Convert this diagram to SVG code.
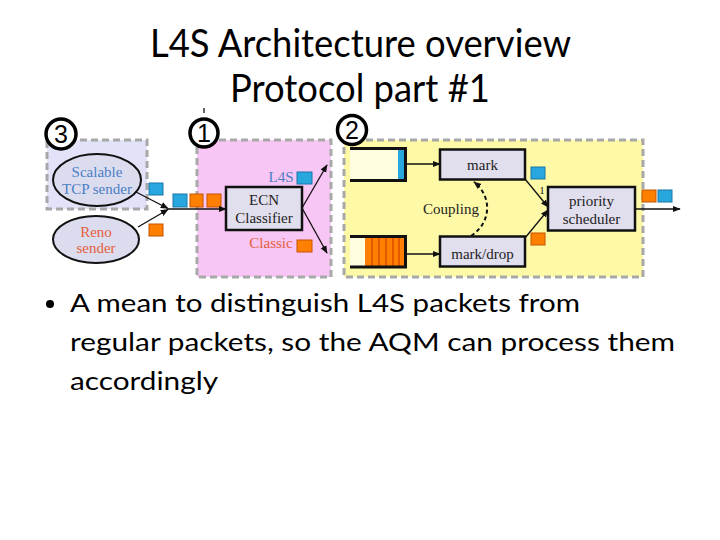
<svg xmlns="http://www.w3.org/2000/svg" width="720" height="540" viewBox="0 0 720 540">
<style>
.title{font-family:Lato,"Open Sans",sans-serif;font-size:38px;fill:#000}
.bul{font-family:Lato,"Open Sans",sans-serif;font-size:25px;fill:#000}
.lbl{font-family:"Liberation Serif","Times New Roman",serif;font-size:15px;fill:#222;text-anchor:middle}
.blue{fill:#4a7fc4}
.orng{fill:#e5603c}
.zone{stroke:#a8a8a8;stroke-width:3;stroke-dasharray:7,4}
.num{fill:#fff;stroke:#000;stroke-width:3.5}
.numt{font-family:"Liberation Sans",Arial,sans-serif;font-size:25px;fill:#000;text-anchor:middle}
.node{fill:#e1deee;stroke:#111;stroke-width:2.5}
.pb{fill:#27a7de;stroke:#1b77a8;stroke-width:1}
.po{fill:#ff7f00;stroke:#c65200;stroke-width:1}
.ln{stroke:#111;stroke-width:1.3;fill:none}
.q{fill:none;stroke:#111;stroke-width:3}
</style>
<defs>
<marker id="ah" viewBox="0 0 10 10" refX="9" refY="5" markerWidth="8" markerHeight="8" markerUnits="userSpaceOnUse" orient="auto">
<path d="M0,1 L10,5 L0,9 Z" fill="#111"/>
</marker>
</defs>
<rect width="720" height="540" fill="#fff"/>

<text class="title" x="150" y="57" textLength="421" lengthAdjust="spacingAndGlyphs">L4S Architecture overview</text>
<text class="title" x="230" y="102" textLength="260" lengthAdjust="spacingAndGlyphs">Protocol part #1</text>
<line x1="204" y1="108" x2="204" y2="113" stroke="#333" stroke-width="1.5"/>

<g id="zone3">
<rect class="zone" x="47" y="140" width="100" height="69" fill="#e2e2f8"/>
</g>
<g id="zone1">
<rect class="zone" x="197" y="140" width="134" height="137" fill="#f8c6f4"/>
</g>
<g id="zone2">
<rect class="zone" x="344" y="140" width="299" height="137" fill="#fdf9a6"/>
</g>

<g id="badge3"><circle class="num" cx="61" cy="134" r="15"/><text class="numt" x="61" y="143">3</text></g>
<g id="badge1"><circle class="num" cx="204" cy="133" r="14"/><text class="numt" x="204" y="142">1</text></g>
<g id="badge2"><circle class="num" cx="352" cy="130" r="14.5"/><text class="numt" x="352" y="139">2</text></g>

<g id="scalable">
<ellipse cx="97" cy="180" rx="44" ry="26" fill="#dcdcef" stroke="#111" stroke-width="2"/>
<text class="lbl blue" x="97" y="177">Scalable</text>
<text class="lbl blue" x="97" y="194">TCP sender</text>
</g>
<g id="reno">
<ellipse cx="96" cy="239.5" rx="43" ry="23.5" fill="#dcdcef" stroke="#111" stroke-width="2"/>
<text class="lbl orng" x="96" y="237">Reno</text>
<text class="lbl orng" x="96" y="253">sender</text>
</g>

<g id="ecn">
<rect class="node" x="226" y="187" width="76" height="43"/>
<text class="lbl" x="264" y="205">ECN</text>
<text class="lbl" x="264" y="223">Classifier</text>
</g>
<text class="lbl blue" x="281" y="182">L4S</text>
<text class="lbl orng" x="271" y="248">Classic</text>

<g id="queue1">
<rect x="350" y="149" width="56" height="31" fill="#fffde0"/>
<rect x="398" y="149" width="7" height="31" fill="#27a7de"/>
<path class="q" d="M350,148.5 H405.5 V180.5 H350"/>
</g>
<g id="queue2">
<rect x="350" y="237" width="56" height="30" fill="#fffde0"/>
<rect x="365" y="237" width="40" height="30" fill="#ff8000"/>
<g stroke="#d04000" stroke-width="1.2">
<line x1="372" y1="237" x2="372" y2="267"/><line x1="379" y1="237" x2="379" y2="267"/>
<line x1="386" y1="237" x2="386" y2="267"/><line x1="393" y1="237" x2="393" y2="267"/>
<line x1="399" y1="237" x2="399" y2="267"/>
</g>
<path class="q" d="M350,236.5 H405.5 V267 H350"/>
</g>

<g id="mark">
<rect class="node" x="440" y="149.5" width="85" height="30"/>
<text class="lbl" x="482.5" y="170">mark</text>
</g>
<g id="markdrop">
<rect class="node" x="440" y="236.5" width="85" height="30"/>
<text class="lbl" x="482.5" y="259">mark/drop</text>
</g>
<text class="lbl" x="451" y="214">Coupling</text>

<g id="scheduler">
<rect class="node" x="548" y="187" width="87" height="43.5"/>
<text class="lbl" x="591.5" y="206">priority</text>
<text class="lbl" x="591.5" y="224">scheduler</text>
</g>
<text class="lbl" x="542" y="194" style="font-size:11px">1</text>

<g id="packets">
<rect class="pb" x="149" y="183" width="14" height="12"/>
<rect class="po" x="149" y="224" width="14" height="12"/>
<rect class="pb" x="173" y="194" width="14" height="13"/>
<rect class="po" x="190" y="194" width="13" height="13"/>
<rect class="po" x="207" y="194" width="14" height="13"/>
<rect class="pb" x="297" y="172" width="15" height="12"/>
<rect class="po" x="297" y="240" width="15" height="12"/>
<rect class="pb" x="531" y="167" width="14" height="12"/>
<rect class="po" x="531" y="233" width="14" height="12"/>
<rect class="po" x="642" y="190" width="14" height="12"/>
<rect class="pb" x="658" y="190" width="14" height="12"/>
</g>

<g id="connectors">
<line class="ln" x1="136" y1="192" x2="168" y2="208.5" marker-end="url(#ah)"/>
<line class="ln" x1="138" y1="227" x2="168" y2="209.5" marker-end="url(#ah)"/>
<line class="ln" x1="168" y1="209" x2="226" y2="209" marker-end="url(#ah)"/>
<line class="ln" x1="302" y1="208" x2="327" y2="165" marker-end="url(#ah)"/>
<line class="ln" x1="302" y1="208" x2="327" y2="253" marker-end="url(#ah)"/>
<line class="ln" x1="406" y1="164" x2="440" y2="164" marker-end="url(#ah)"/>
<line class="ln" x1="406" y1="254" x2="440" y2="254" marker-end="url(#ah)"/>
<path d="M471,236 C492,222 492,196 474,182" fill="none" stroke="#111" stroke-width="2" stroke-dasharray="4,3" marker-end="url(#ah)"/>
<line class="ln" x1="525" y1="179" x2="548" y2="207" marker-end="url(#ah)"/>
<line class="ln" x1="525" y1="238" x2="548" y2="210" marker-end="url(#ah)"/>
<line class="ln" x1="635" y1="209" x2="680" y2="209" marker-end="url(#ah)"/>
</g>

<circle cx="50" cy="304" r="4" fill="#000"/>
<text class="bul" x="70" y="312" textLength="510" lengthAdjust="spacingAndGlyphs">A mean to distinguish L4S packets from</text>
<text class="bul" x="70" y="351" textLength="605" lengthAdjust="spacingAndGlyphs">regular packets, so the AQM can process them</text>
<text class="bul" x="70" y="390" textLength="148" lengthAdjust="spacingAndGlyphs">accordingly</text>
</svg>
